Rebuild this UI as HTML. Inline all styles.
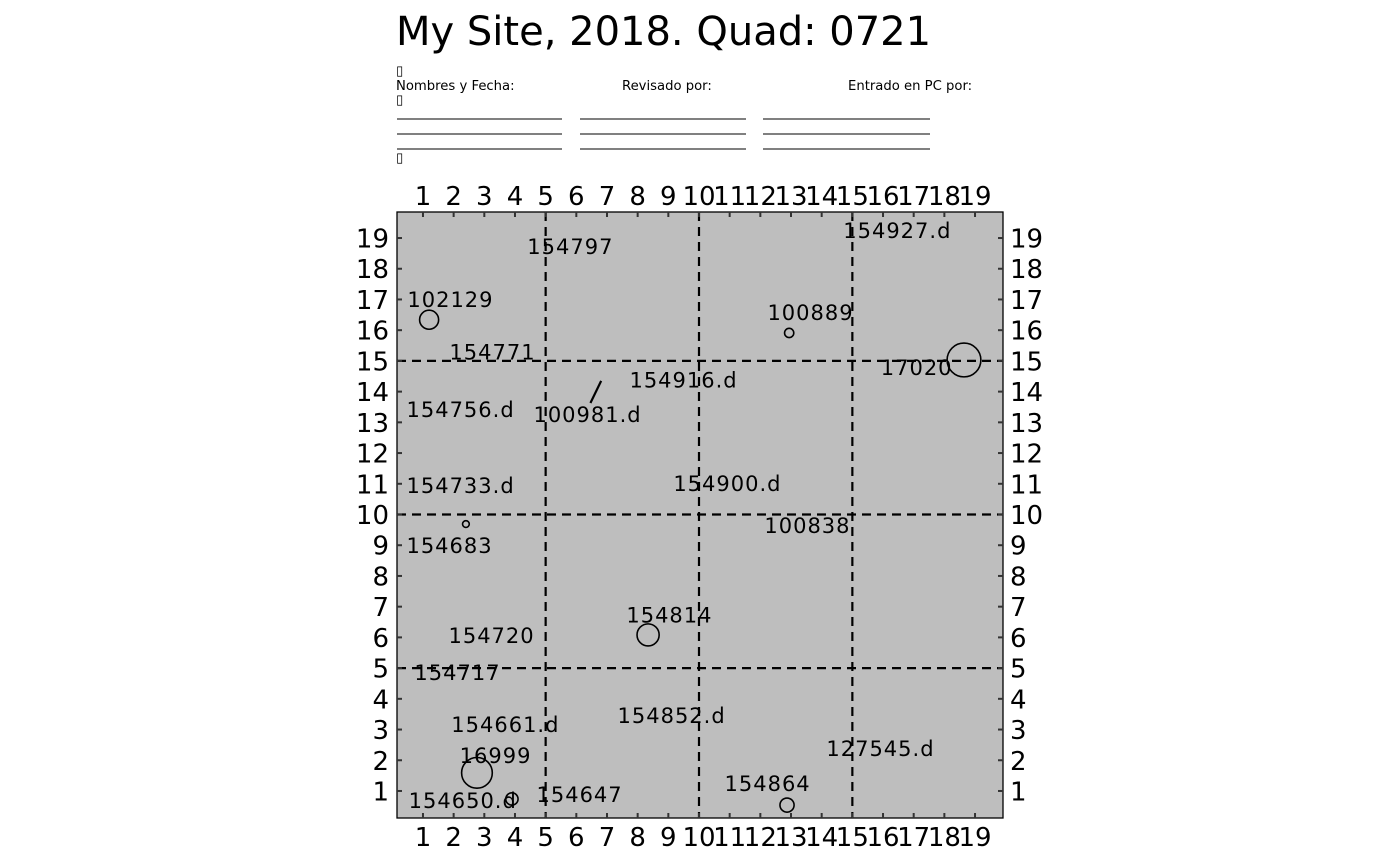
<!DOCTYPE html>
<html><head><meta charset="utf-8"><style>
body{margin:0;background:#fff;width:1400px;height:866px;overflow:hidden;font-family:"DejaVu Sans","Liberation Sans",sans-serif}
</style></head><body>
<svg width="1400" height="866" style="position:absolute;left:0;top:0" font-family="DejaVu Sans, Liberation Sans, sans-serif">
<text x="396" y="45" font-size="40">My Site, 2018. Quad: 0721</text>
<g font-size="13.2">
<text x="396" y="75">▯</text>
<text x="396" y="90">Nombres y Fecha:</text>
<text x="622" y="90">Revisado por:</text>
<text x="848" y="90">Entrado en PC por:</text>
<text x="396" y="104">▯</text>
<text x="396" y="162">▯</text>
</g>
<g id="ul" stroke="#000" stroke-width="1"></g>
<rect x="397" y="212" width="606" height="606" fill="#bebebe" stroke="#000" stroke-width="1.3"/>
<g id="grid"></g>
<g id="ticks"></g>
<g id="marks"></g>
</svg>
<script>
const labelNames=["154797","154927.d","102129","100889","154771","17020","154916.d","154756.d","100981.d","154733.d","154900.d","100838","154683","154814","154720","154717","154661.d","154852.d","127545.d","16999","154864","154650.d","154647"];
const labelX=[5.79,16.45,1.88,13.62,3.25,17.08,9.48,2.21,6.35,2.21,10.91,13.52,1.85,9.02,3.22,2.11,3.67,9.09,15.90,3.35,12.22,2.28,6.09];
const labelY=[18.71,19.23,16.98,16.56,15.28,14.77,14.37,13.40,13.24,10.92,10.99,9.62,8.97,6.72,6.04,4.84,3.14,3.44,2.37,2.14,1.23,0.68,0.87];
const circleNames=["102129","100889","17020","154683","154814","16999","154650.d","154864"];
const circleX=[1.20,12.94,18.64,2.40,8.34,2.76,3.90,12.87];
const circleY=[16.34,15.91,15.03,9.69,6.08,1.59,0.74,0.54];
const circleSize=[0.31,0.15,0.55,0.11,0.36,0.5,0.2,0.23];
const segX1=[6.46],segY1=[13.63],segX2=[6.81],segY2=[14.35];
const tickVals=[1,2,3,4,5,6,7,8,9,10,11,12,13,14,15,16,17,18,19];
const gridVals=[5,10,15];
const sx=v=>392.3+30.67*v, sy=v=>821.7-30.72*v, sr=v=>v*30.7;
const NS="http://www.w3.org/2000/svg";
function mk(p,t,a){const e=document.createElementNS(NS,t);for(const k in a)e.setAttribute(k,a[k]);p.appendChild(e);return e;}
const ul=document.getElementById('ul');
[119,134,149].forEach(y=>[[397,562],[580,746],[763,930]].forEach(c=>{
 const l=mk(ul,'line',{x1:c[0],x2:c[1],y1:y,y2:y});
 
 
}));
const g=document.getElementById('grid');
gridVals.forEach(v=>{
 const a=mk(g,'line',{x1:sx(v),x2:sx(v),y1:212,y2:818,stroke:'#000','stroke-width':2.2,'stroke-dasharray':'9,6'});
 
 
 const b=mk(g,'line',{y1:sy(v),y2:sy(v),x1:397,x2:1003,stroke:'#000','stroke-width':2.2,'stroke-dasharray':'9,6'});
 
 
});
const tk=document.getElementById('ticks');
const TA={'font-size':26};
tickVals.forEach(v=>{
 const x=sx(v),y=sy(v);
 [[x,818,x,813],[x,212,x,217],[397,y,402,y],[1003,y,998,y]].forEach(c=>{
  const l=mk(tk,'line',{x1:c[0],y1:c[1],x2:c[2],y2:c[3],stroke:'#333','stroke-width':2});
  
  
 });
 const t1=mk(tk,'text',Object.assign({x:x,y:205,'text-anchor':'middle'},TA));t1.textContent=v;
 
 
 const t2=mk(tk,'text',Object.assign({x:x,y:846,'text-anchor':'middle'},TA));t2.textContent=v;
 
 
 const t3=mk(tk,'text',Object.assign({x:389,y:y+9.5,'text-anchor':'end'},TA));t3.textContent=v;
 
 
 const t4=mk(tk,'text',Object.assign({x:1010,y:y+9.5,'text-anchor':'start'},TA));t4.textContent=v;
 
 
});
const m=document.getElementById('marks');
circleX.forEach((v,i)=>{
 const c=mk(m,'circle',{cx:sx(v),cy:sy(circleY[i]),r:sr(circleSize[i]),fill:'none',stroke:'#000','stroke-width':1.6});
 
 
});
segX1.forEach((v,i)=>{
 const l=mk(m,'line',{x1:sx(v),y1:sy(segY1[i]),x2:sx(segX2[i]),y2:sy(segY2[i]),stroke:'#000','stroke-width':2.2});
 
 
});
labelNames.forEach((n,i)=>{
 const t=mk(m,'text',{x:sx(labelX[i])+0.5,y:sy(labelY[i])+7,'font-size':21,'letter-spacing':'1','text-anchor':'middle'});
 t.textContent=n;
 
 
});
</script>
</body></html>
